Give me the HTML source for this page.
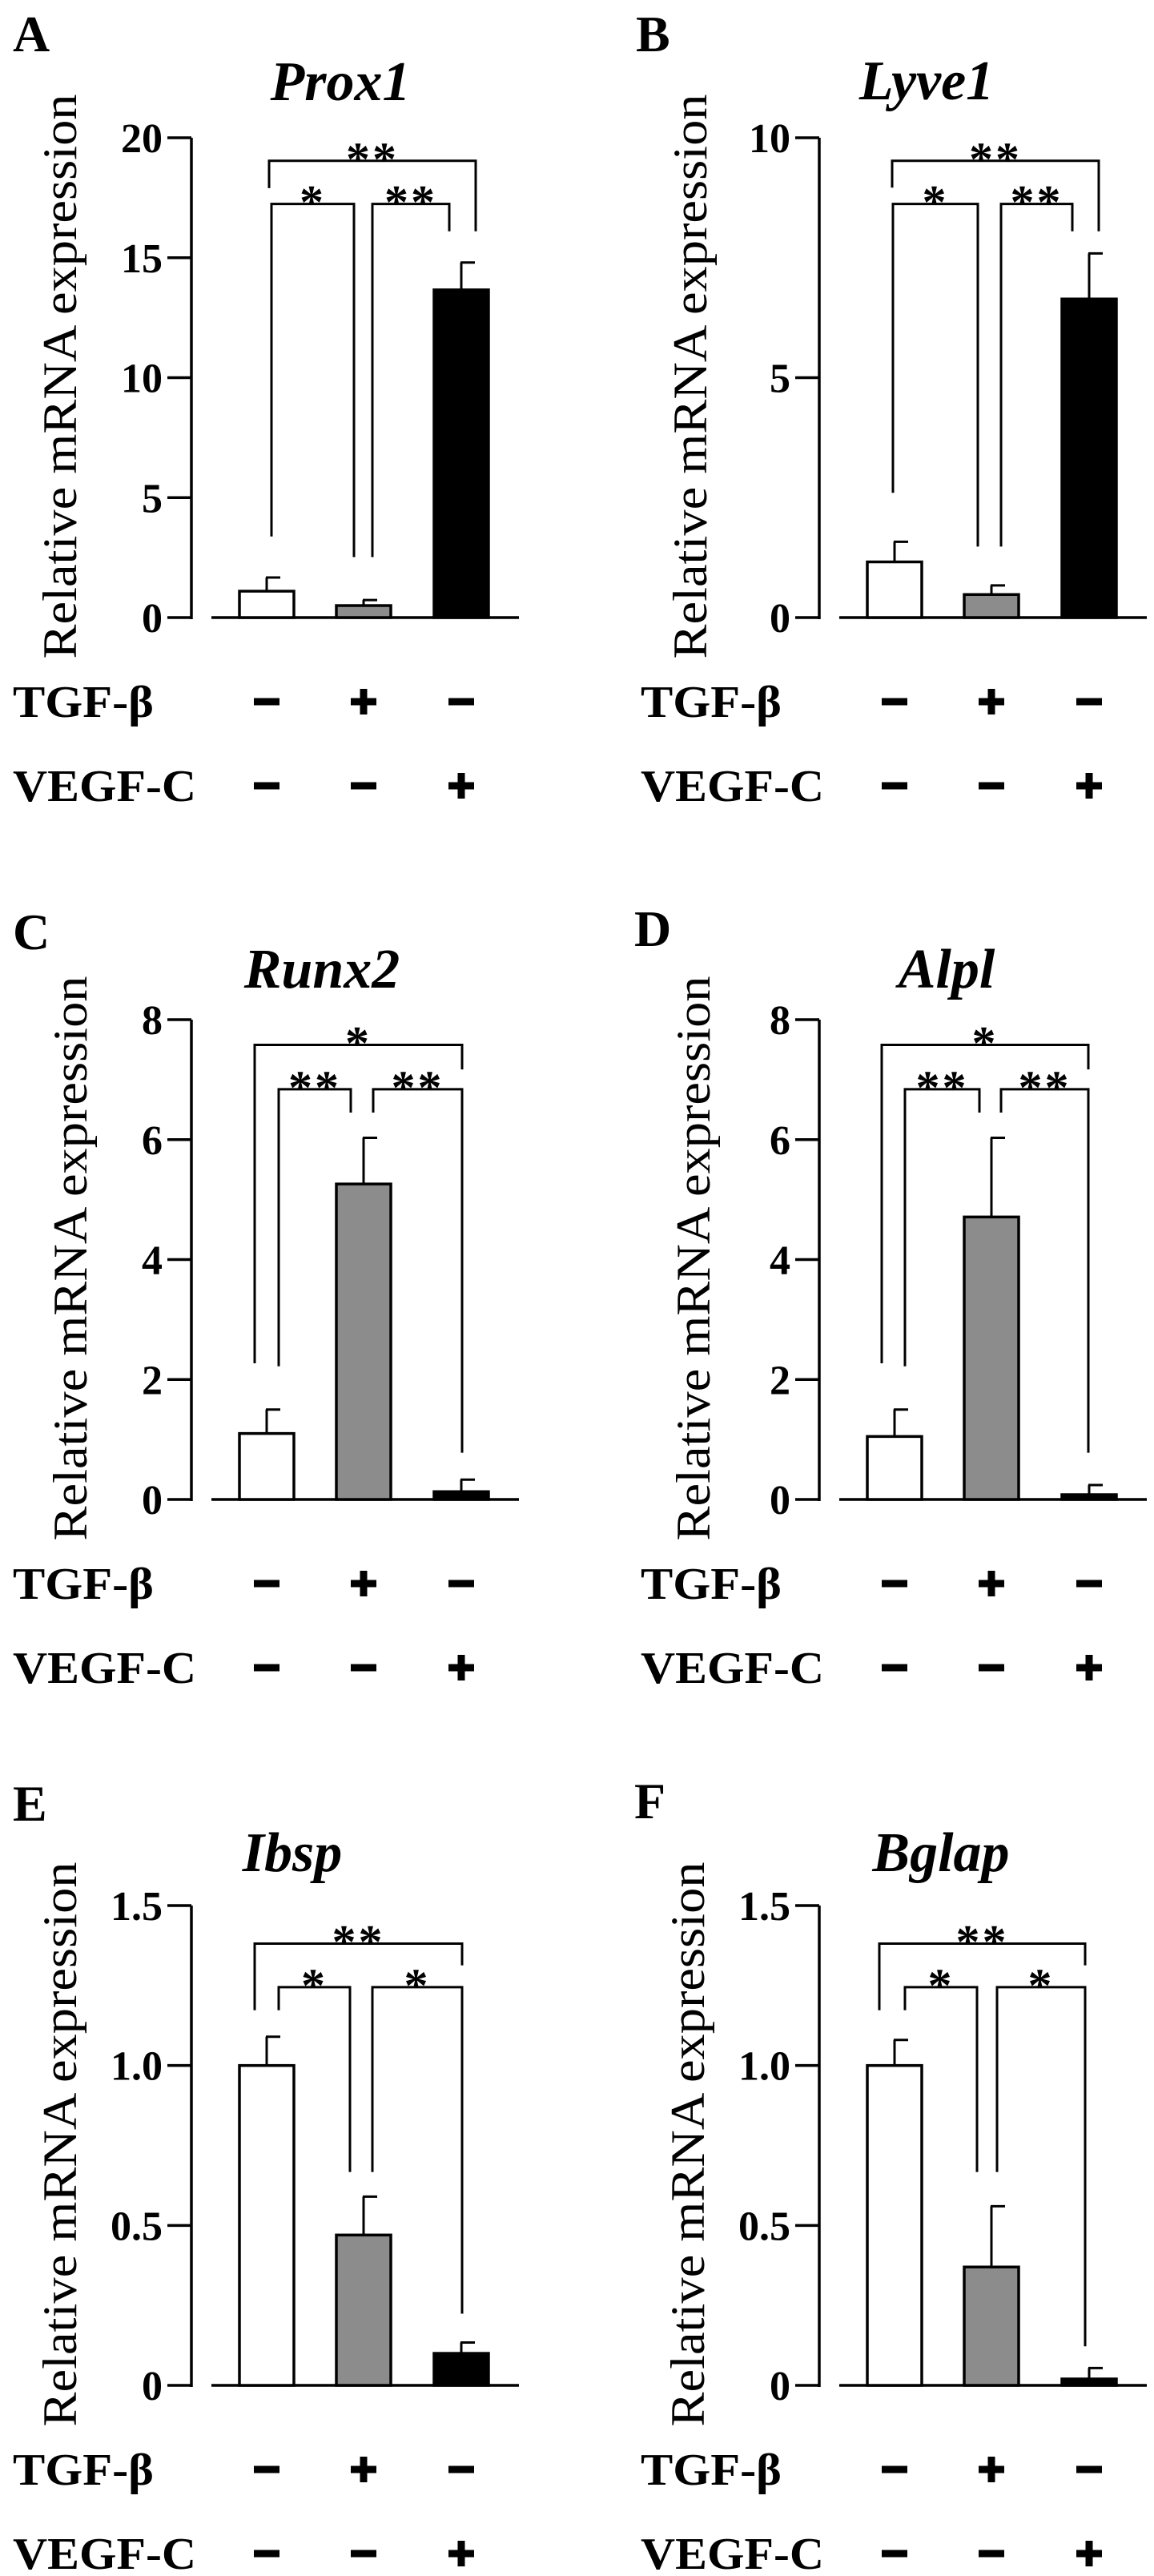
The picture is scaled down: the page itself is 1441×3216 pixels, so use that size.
<!DOCTYPE html>
<html><head><meta charset="utf-8"><style>
html,body{margin:0;padding:0;background:#fff}
svg{display:block}
text{font-family:"Liberation Serif","DejaVu Serif",serif;font-weight:bold;fill:#000}
text.reg{font-weight:normal}
</style></head><body>
<svg id="fig" width="1441" height="3216" viewBox="0 0 1441 3216" xmlns="http://www.w3.org/2000/svg"></svg>
<script>
const panelLetters = ['A','B','C','D','E','F'];
const genes = ['Prox1','Lyve1','Runx2','Alpl','Ibsp','Bglap'];
const yMax = [20,10,8,8,1.5,1.5];
const yTicks = [[0,5,10,15,20],[0,5,10],[0,2,4,6,8],[0,2,4,6,8],[0,0.5,1.0,1.5],[0,0.5,1.0,1.5]];
const tickLabels = [['0','5','10','15','20'],['0','5','10'],['0','2','4','6','8'],['0','2','4','6','8'],['0','0.5','1.0','1.5'],['0','0.5','1.0','1.5']];
const means = [[1.1,0.5,13.66],[1.16,0.48,6.64],[1.1,5.26,0.13],[1.05,4.71,0.08],[1.0,0.47,0.1],[1.0,0.37,0.02]];
const errs = [[0.57,0.23,1.14],[0.42,0.19,0.95],[0.4,0.77,0.2],[0.45,1.32,0.16],[0.09,0.12,0.034],[0.08,0.19,0.034]];
const tgfRow = ['-','+','-'];
const vegfRow = ['-','-','+'];
// brackets: [top value, left-leg bottom value, right-leg bottom value, label]
const brackets = [
 [[19.04,17.9,16.1,'**'],[17.24,3.38,2.52,'*'],[17.24,2.52,16.1,'**']],
 [[9.52,8.96,8.05,'**'],[8.62,2.6,1.48,'*'],[8.62,1.48,8.05,'**']],
 [[7.58,2.27,7.17,'*'],[6.84,2.22,6.45,'**'],[6.84,6.45,0.78,'**']],
 [[7.58,2.27,7.17,'*'],[6.84,2.22,6.45,'**'],[6.84,6.45,0.78,'**']],
 [[1.381,1.173,1.313,'**'],[1.245,1.173,0.667,'*'],[1.245,0.667,0.224,'*']],
 [[1.381,1.173,1.313,'**'],[1.245,1.173,0.667,'*'],[1.245,0.667,0.122,'*']]
];
const bracketBars = [[0,2],[0,1],[1,2]];

// layout (pixels)
const L = {
 dx:[0,784,0,784,0,784], dy:[0,0,1101,1101,2207,2207],
 titleX:[425,373,402,398,365,391], titleY:[125,124,132,132,129,129],
 letterX:[16,10,16,8,16,8], letterY:[64,64,84,80,66,63],
 ylabX:[95,98,108,102,95,95],
 bxOff:[
  [[3,18],[6,-12],[11,-15]],
  [[-3,12],[-2,-17],[12,-21]],
  [[-15,1],[15,-16],[12,1]],
  [[-16,-1],[13,-15],[12,-1]],
  [[-15,1],[15,-17],[11,1]],
  [[-19,-5],[13,-18],[7,-5]]
 ]
};
const barCx = [333,454,576], barW = 68, axisX = 239, yTop = 172, yBase = 771;
const fills = ['#ffffff','#8c8c8c','#000000'];
const NS = 'http://www.w3.org/2000/svg';
const svg = document.getElementById('fig');
function mk(tag, attrs, parent){const e=document.createElementNS(NS,tag);for(const k in attrs)e.setAttribute(k,attrs[k]);(parent||svg).appendChild(e);return e;}
function txt(s, attrs, parent){const e=mk('text',attrs,parent);e.textContent=s;return e;}

panelLetters.forEach((letter,p)=>{
  const g = mk('g',{transform:`translate(${L.dx[p]},${L.dy[p]})`});
  
  
  const y = v => yBase - v/yMax[p]*(yBase-yTop);
  let t = txt(letter,{x:L.letterX[p],y:L.letterY[p],'font-size':64},g);
  
  
  t = txt(genes[p],{x:L.titleX[p],y:L.titleY[p],'font-size':70,'font-style':'italic','text-anchor':'middle'},g);
  
  
  t = txt('Relative mRNA expression',{class:'reg',x:0,y:0,'font-size':60,textLength:705,lengthAdjust:'spacingAndGlyphs','text-anchor':'middle',transform:`translate(${L.ylabX[p]},470) rotate(-90)`},g);
  
  
  let ln = mk('line',{x1:axisX,y1:yTop,x2:axisX,y2:yBase+2,stroke:'#000','stroke-width':3.5},g);
  
  
  ln = mk('line',{x1:264,y1:yBase,x2:648,y2:yBase,stroke:'#000','stroke-width':3.5},g);
  
  
  yTicks[p].forEach((v,i)=>{
    const tk = mk('line',{x1:axisX-30,y1:y(v),x2:axisX,y2:y(v),stroke:'#000','stroke-width':3.5},g);
    
    
    const tl = txt(tickLabels[p][i],{x:axisX-36,y:y(v)+18,'font-size':52,'text-anchor':'end'},g);
    
    
  });
  means[p].forEach((m,i)=>{
    const cx = barCx[i];
    const eb = mk('line',{x1:cx,y1:y(m),x2:cx,y2:y(m+errs[p][i]),stroke:'#000','stroke-width':3},g);
    
    
    const cap = mk('line',{x1:cx-1,y1:y(m+errs[p][i]),x2:cx+17,y2:y(m+errs[p][i]),stroke:'#000','stroke-width':3},g);
    
    
    const r = mk('rect',{x:cx-barW/2,y:y(m),width:barW,height:Math.max(yBase-y(m),1),fill:fills[i],stroke:'#000','stroke-width':3.5},g);
    
    
  });
  brackets[p].forEach((b,k)=>{
    const [i,j] = bracketBars[k];
    const x1 = barCx[i]+L.bxOff[p][k][0], x2 = barCx[j]+L.bxOff[p][k][1];
    const pl = mk('polyline',{points:`${x1},${y(b[1])} ${x1},${y(b[0])} ${x2},${y(b[0])} ${x2},${y(b[2])}`,fill:'none',stroke:'#000','stroke-width':3},g);
    
    
    const st = txt(b[3],{x:(x1+x2)/2,y:y(b[0])+18,'font-size':60,'text-anchor':'middle','letter-spacing':'3'},g);
    
    
  });
  [['TGF-β',895,176,876,tgfRow],['VEGF-C',1000,229,981,vegfRow]].forEach(([lab,by,w,cy,row])=>{
    const rl = txt(lab,{x:16,y:by,'font-size':56,textLength:w,lengthAdjust:'spacingAndGlyphs'},g);
    
    
    row.forEach((s,i)=>{
      const cx = barCx[i];
      const h = mk('rect',{x:cx-16,y:cy-4.5,width:32,height:9,fill:'#000'},g);
      
      
      if(s==='+'){
        const v = mk('rect',{x:cx-4.5,y:cy-16,width:9,height:32,fill:'#000'},g);
        
        
      }
    });
  });
});
</script>
</body></html>
